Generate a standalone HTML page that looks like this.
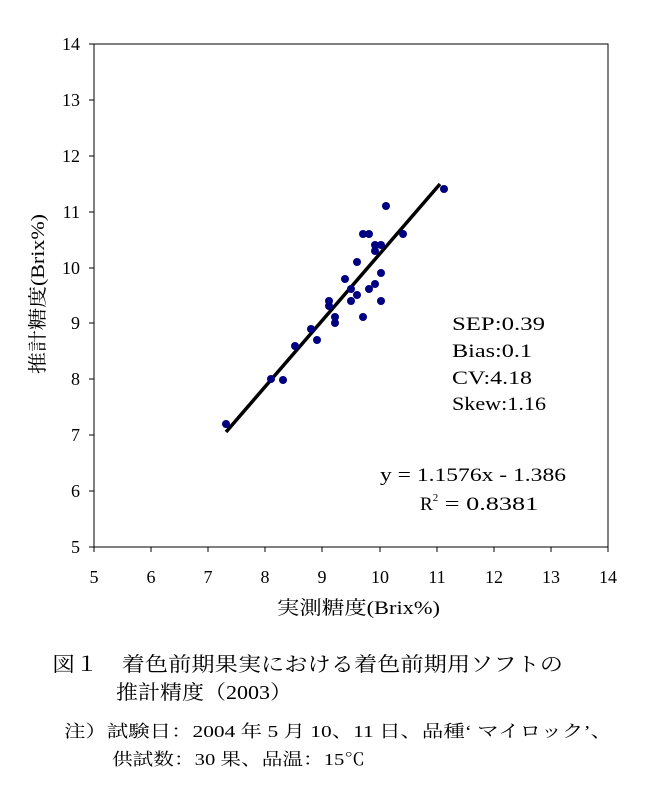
<!DOCTYPE html>
<html><head><meta charset="utf-8"><style>
body{margin:0;background:#fff;width:650px;height:793px;overflow:hidden}
svg text{font-family:"Liberation Serif","Noto Serif CJK SC",serif;fill:#000}
.j{font-family:"Liberation Serif","Noto Serif CJK JP","Noto Sans CJK JP",serif}
</style></head><body>
<svg width="650" height="793" xmlns="http://www.w3.org/2000/svg">
<rect x="94" y="44" width="514" height="503" fill="none" stroke="#000" stroke-width="1"/>
<g stroke="#000" stroke-width="1">
<line x1="89" y1="44" x2="94" y2="44"/><line x1="89" y1="100" x2="94" y2="100"/><line x1="89" y1="156" x2="94" y2="156"/><line x1="89" y1="212" x2="94" y2="212"/><line x1="89" y1="268" x2="94" y2="268"/><line x1="89" y1="323" x2="94" y2="323"/><line x1="89" y1="379" x2="94" y2="379"/><line x1="89" y1="435" x2="94" y2="435"/><line x1="89" y1="491" x2="94" y2="491"/><line x1="89" y1="547" x2="94" y2="547"/>
<line x1="94" y1="547" x2="94" y2="552"/><line x1="151" y1="547" x2="151" y2="552"/><line x1="208" y1="547" x2="208" y2="552"/><line x1="265" y1="547" x2="265" y2="552"/><line x1="322" y1="547" x2="322" y2="552"/><line x1="380" y1="547" x2="380" y2="552"/><line x1="437" y1="547" x2="437" y2="552"/><line x1="494" y1="547" x2="494" y2="552"/><line x1="551" y1="547" x2="551" y2="552"/><line x1="608" y1="547" x2="608" y2="552"/>
</g>
<g font-size="18" text-anchor="end">
<text x="80" y="50">14</text><text x="80" y="106">13</text><text x="80" y="162">12</text><text x="80" y="218">11</text><text x="80" y="274">10</text><text x="80" y="329">9</text><text x="80" y="385">8</text><text x="80" y="441">7</text><text x="80" y="497">6</text><text x="80" y="553">5</text>
</g>
<g font-size="18" text-anchor="middle">
<text x="94" y="583">5</text><text x="151" y="583">6</text><text x="208" y="583">7</text><text x="265" y="583">8</text><text x="322" y="583">9</text><text x="380" y="583">10</text><text x="437" y="583">11</text><text x="494" y="583">12</text><text x="551" y="583">13</text><text x="608" y="583">14</text>
</g>
<text class="j" x="277" y="614" font-size="19" textLength="163" lengthAdjust="spacingAndGlyphs">実測糖度(Brix%)</text>
<text class="j" transform="translate(44,374) rotate(-90)" font-size="19" textLength="160" lengthAdjust="spacingAndGlyphs">推計糖度(Brix%)</text>
<line x1="226" y1="432" x2="440" y2="184" stroke="#000" stroke-width="3.5"/>
<g fill="#000080">
<circle cx="226" cy="424" r="4"/><circle cx="271" cy="379" r="4"/><circle cx="283" cy="380" r="4"/><circle cx="295" cy="346" r="4"/><circle cx="311" cy="329" r="4"/><circle cx="317" cy="340" r="4"/><circle cx="329" cy="301" r="4"/><circle cx="329" cy="306" r="4"/><circle cx="335" cy="317" r="4"/><circle cx="335" cy="323" r="4"/><circle cx="345" cy="279" r="4"/><circle cx="351" cy="289" r="4"/><circle cx="351" cy="301" r="4"/><circle cx="357" cy="262" r="4"/><circle cx="357" cy="295" r="4"/><circle cx="363" cy="317" r="4"/><circle cx="363" cy="234" r="4"/><circle cx="369" cy="234" r="4"/><circle cx="369" cy="289" r="4"/><circle cx="375" cy="284" r="4"/><circle cx="375" cy="245" r="4"/><circle cx="375" cy="251" r="4"/><circle cx="381" cy="245" r="4"/><circle cx="381" cy="273" r="4"/><circle cx="381" cy="301" r="4"/><circle cx="386" cy="206" r="4"/><circle cx="403" cy="234" r="4"/><circle cx="444" cy="189" r="4"/>
</g>
<g font-size="19">
<text x="452" y="330" textLength="93" lengthAdjust="spacingAndGlyphs">SEP:0.39</text>
<text x="452" y="357" textLength="80" lengthAdjust="spacingAndGlyphs">Bias:0.1</text>
<text x="452" y="384" textLength="80" lengthAdjust="spacingAndGlyphs">CV:4.18</text>
<text x="452" y="410" textLength="94" lengthAdjust="spacingAndGlyphs">Skew:1.16</text>
<text x="380" y="481" textLength="186" lengthAdjust="spacingAndGlyphs">y = 1.1576x - 1.386</text>
<text x="420" y="510">R<tspan font-size="11" dy="-9">2</tspan><tspan dy="9" textLength="100" lengthAdjust="spacingAndGlyphs"> = 0.8381</tspan></text>
</g>
<g class="j" font-size="20">
<text x="52" y="671" textLength="511" lengthAdjust="spacingAndGlyphs">図１　着色前期果実における着色前期用ソフトの</text>
<text x="116" y="699" textLength="176" lengthAdjust="spacingAndGlyphs">推計精度（2003）</text>
</g>
<g class="j" font-size="17">
<text x="64" y="737" textLength="548" lengthAdjust="spacingAndGlyphs">注）試験日：2004 年 5 月 10、11 日、品種‘ マイロック’、</text>
<text x="112" y="765" textLength="253" lengthAdjust="spacingAndGlyphs">供試数：30 果、品温：15℃</text>
</g>
</svg>
</body></html>
